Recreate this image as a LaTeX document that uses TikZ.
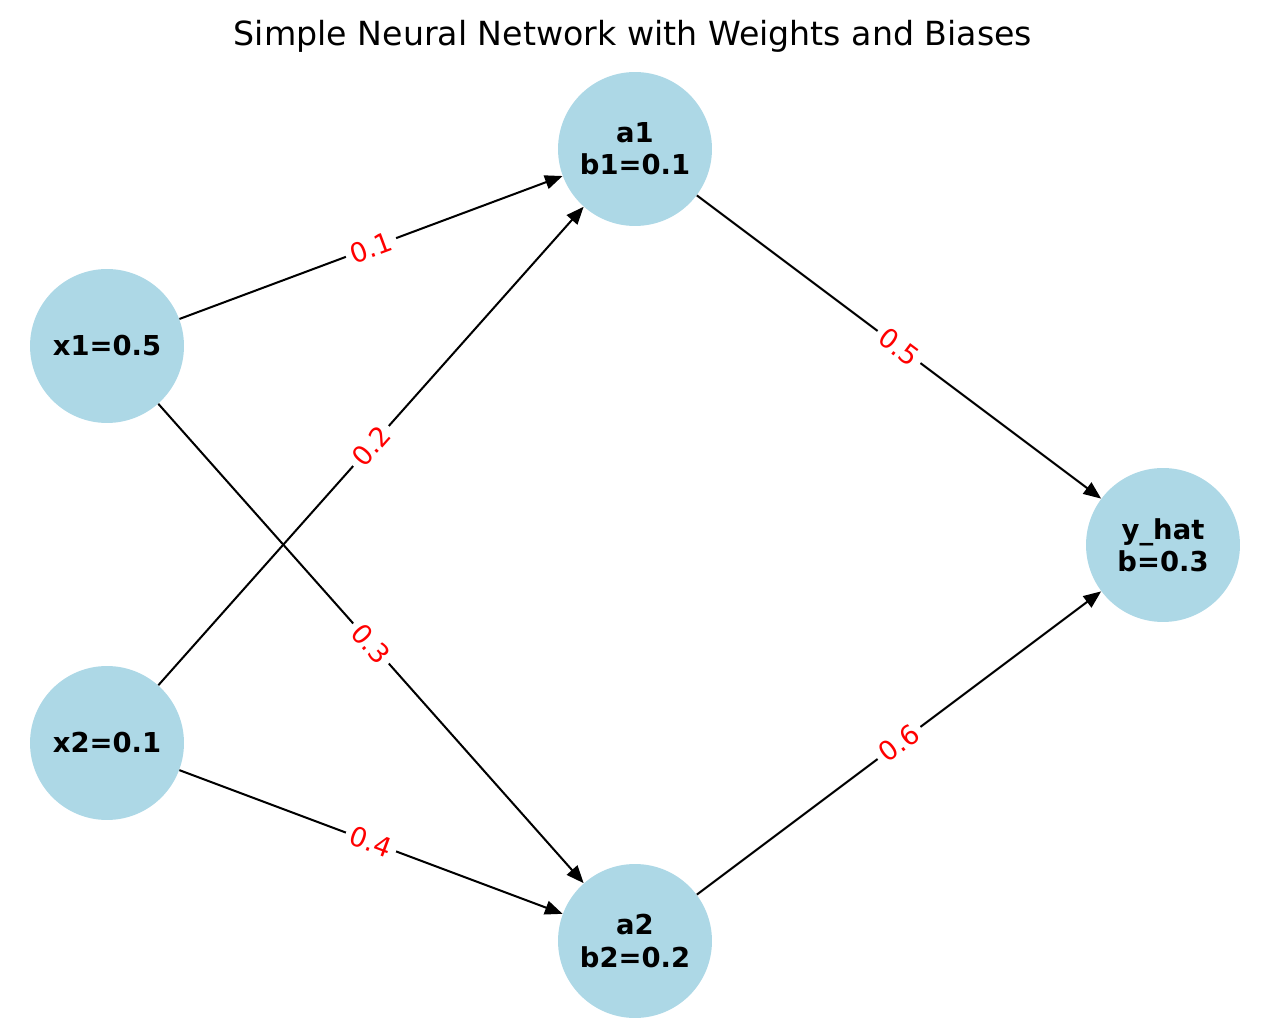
\documentclass[tikz,border=0pt]{standalone}
\usepackage{fontspec}
\setmainfont{DejaVu Sans}
\usetikzlibrary{arrows.meta}
\definecolor{lightblue}{HTML}{ADD8E6}

\begin{document}
\begin{tikzpicture}[
	x=0.02cm, y=0.02cm,
	neuron/.style={
		circle, fill=lightblue, minimum size=3.08cm,
		inner sep=0pt, align=center, text=black,
		font=\fontsize{15.6}{18.3}\selectfont\bfseries
	},
	weight/.style={
		midway, sloped, fill=white, inner sep=3pt, text=red,
		font=\fontsize{15.3}{17}\selectfont
	},
	edge/.style={-{Stealth[length=10pt,width=8pt,inset=0pt]}, line width=1.15pt, black}
	]
	\useasboundingbox (0,0) rectangle (1268,1032);
	\node[font=\fontsize{18.9}{22}\selectfont] (title) at (633,996) {Simple Neural Network with Weights and Biases};
	\node[neuron] (x1) at (107,686) {x1=0.5};
	\node[neuron] (x2) at (107,289) {x2=0.1};
	\node[neuron] (a1) at (635,883) {a1\\b1=0.1};
	\node[neuron] (a2) at (635,91) {a2\\b2=0.2};
	\node[neuron] (y) at (1163,487) {y\_hat\\b=0.3};
	\foreach \from/\to/\w in {x1/a1/0.1, x2/a1/0.2, x1/a2/0.3, x2/a2/0.4, a1/y/0.5, a2/y/0.6}
	{
		\draw[edge] (\from) -- node[weight] {\w} (\to);
	}
\end{tikzpicture}
\end{document}
